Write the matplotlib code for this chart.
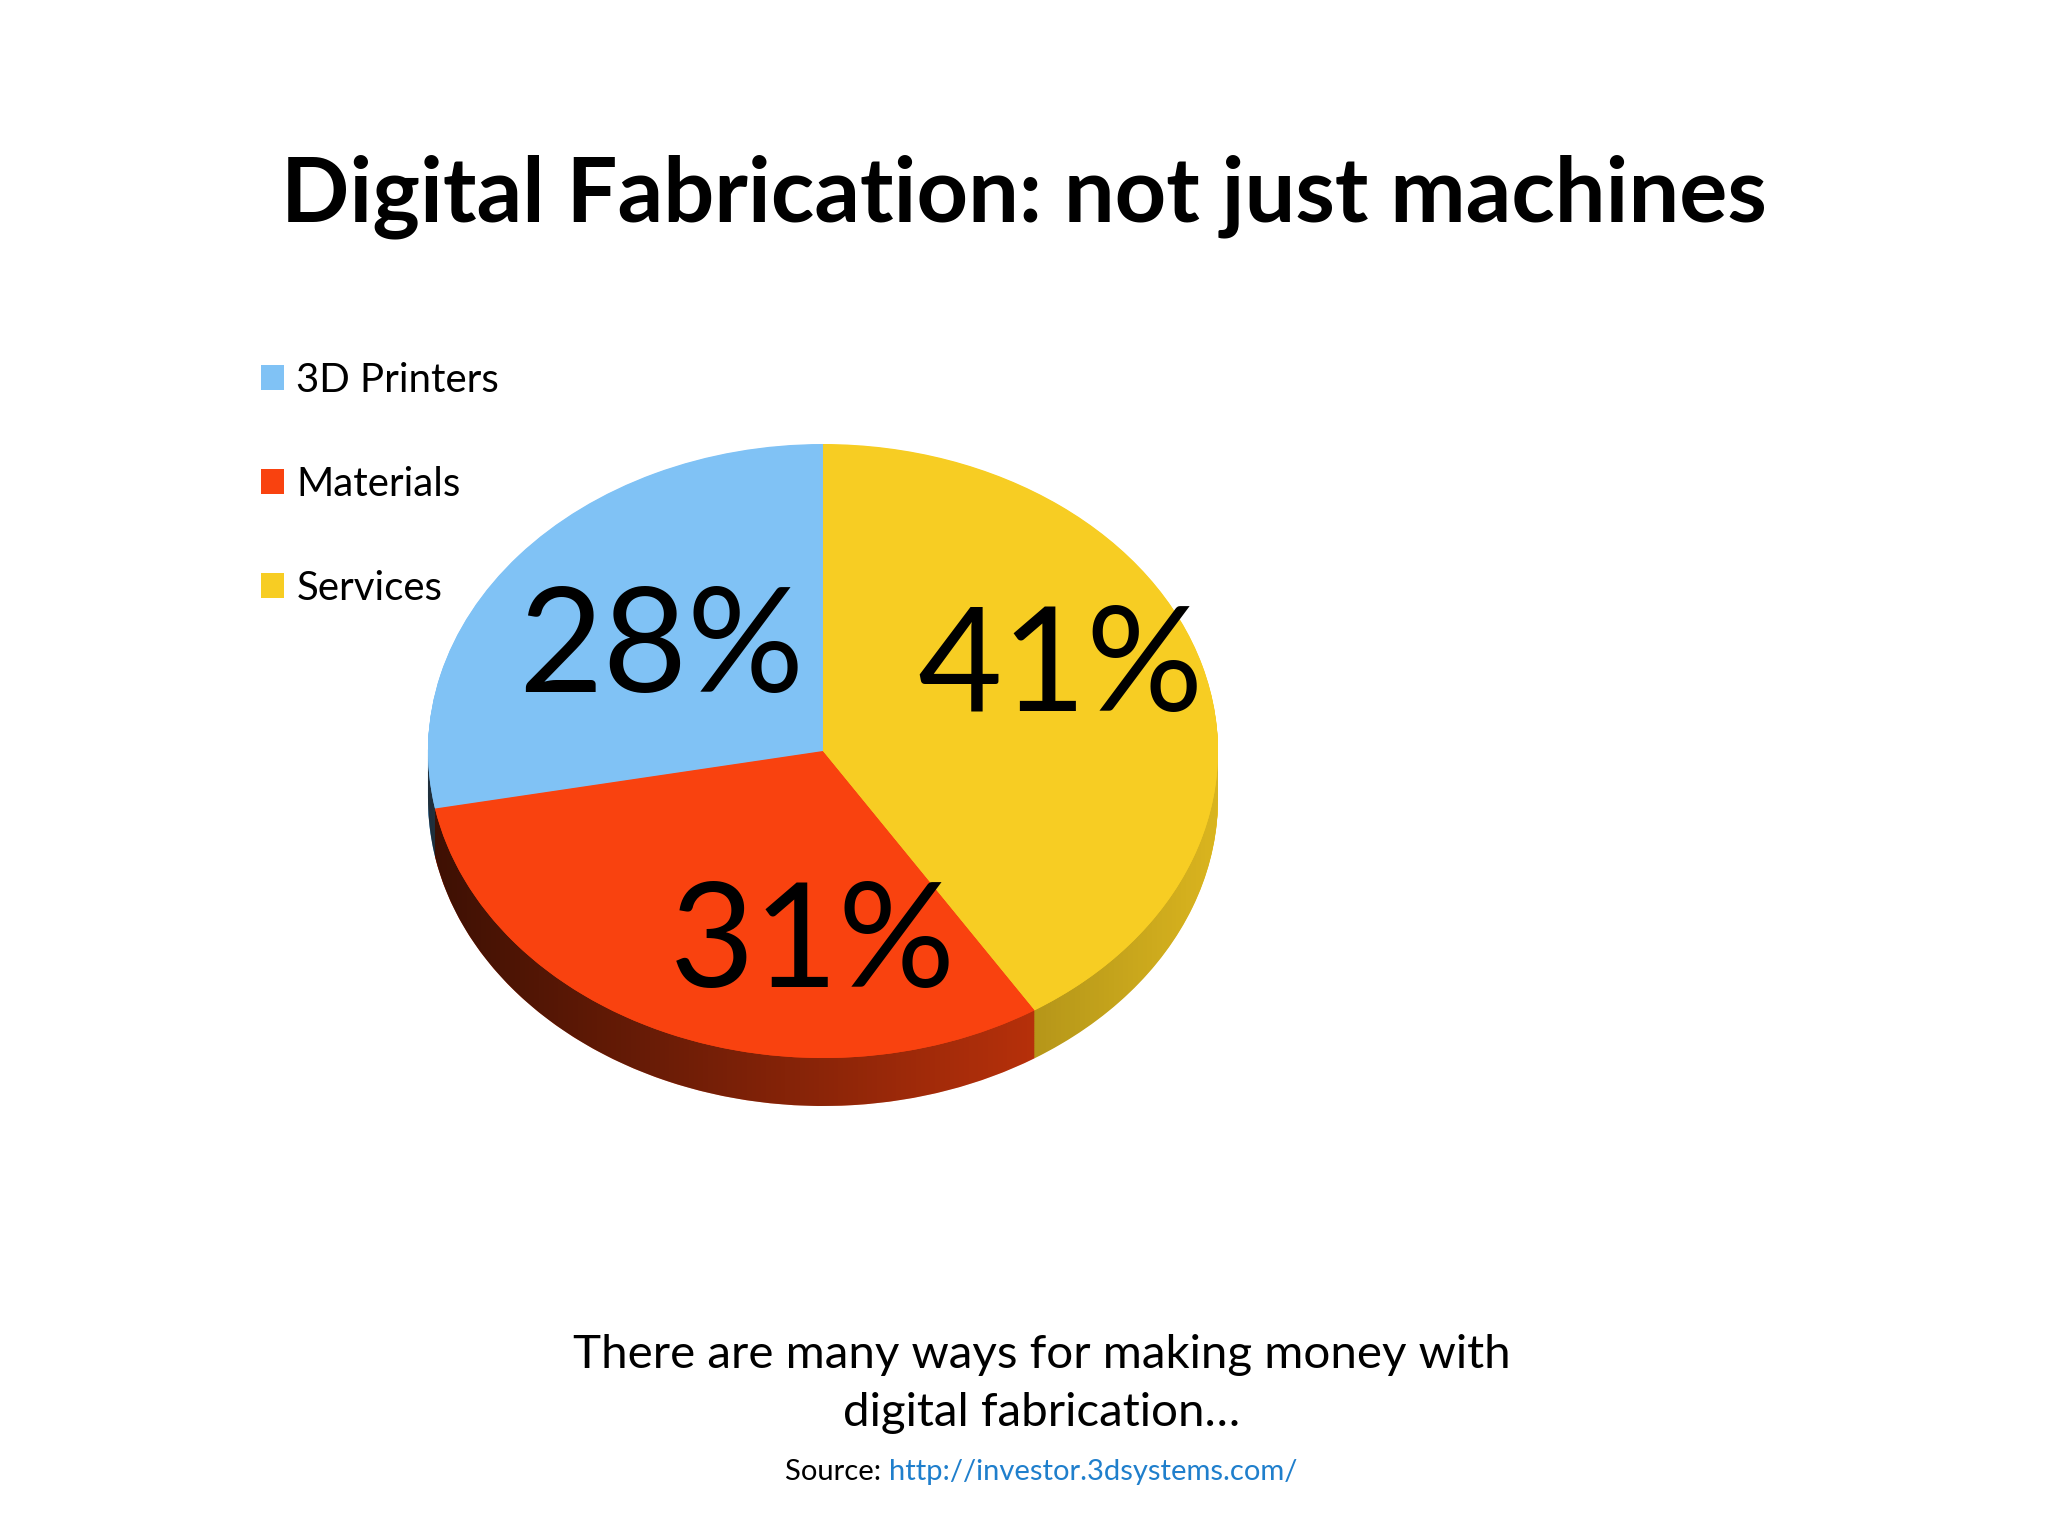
import numpy as np
import matplotlib
matplotlib.use("Agg")
import matplotlib.pyplot as plt
from matplotlib.path import Path
from matplotlib.patches import PathPatch

# ---- data ----
categories = ["3D Printers", "Materials", "Services"]
shares = [28, 31, 41]
pct_labels = ["28%", "31%", "41%"]
colors = ["#80c2f5", "#f9420f", "#f7cd23"]
title = "Digital Fabrication: not just machines"
footer = "There are many ways for making money with\ndigital fabrication…"
source_label = "Source: "
source_url = "http://investor.3dsystems.com/"

FONT = ["Lato", "DejaVu Sans"]
plt.rcParams["font.family"] = FONT

W, H = 2048, 1536
fig = plt.figure(figsize=(W / 100, H / 100), dpi=100)
fig.patch.set_facecolor("white")

# pie geometry in pixels
cx, cy, rx, ry, depth_px = 823, 751, 395, 307, 48
depth = depth_px / ry
xm, ym = 1.1, 1.1
ax_w = 2 * xm * rx
ax_h = (2 * ym + depth) * ry
left = (cx - xm * rx) / W
top_px = cy - ym * ry
bottom = 1 - (top_px + ax_h) / H
ax = fig.add_axes([left, bottom, ax_w / W, ax_h / H])

# side layers
n_layers = 70
for off in np.linspace(depth, 0.002, n_layers):
    ax.pie(shares, colors=colors, startangle=90, counterclock=True,
           center=(0, -off), radius=1,
           wedgeprops=dict(linewidth=0, antialiased=True))

# side shading gradient clipped to the side band
th = np.linspace(np.pi, 2 * np.pi, 200)
upper = np.column_stack([np.cos(th), np.sin(th)])
lower = np.column_stack([np.cos(th[::-1]), np.sin(th[::-1]) - depth])
verts = np.vstack([upper, lower, upper[:1]])
codes = [Path.MOVETO] + [Path.LINETO] * (len(verts) - 2) + [Path.CLOSEPOLY]
band = PathPatch(Path(verts, codes), facecolor="none", edgecolor="none",
                 transform=ax.transData)
ax.add_patch(band)
xs = np.linspace(-1, 1, 400)
alpha = np.clip(0.44 - 0.32 * xs, 0, 1)
grad = np.zeros((2, len(xs), 4))
grad[..., 3] = alpha
im = ax.imshow(grad, extent=(-1, 1, -1 - depth, 0), origin="lower",
               aspect="auto", zorder=5, interpolation="bilinear")
im.set_clip_path(band)

# top face
wedges, _ = ax.pie(shares, colors=colors, startangle=90, counterclock=True,
                   radius=1, wedgeprops=dict(linewidth=0, zorder=10))
for w in wedges:
    w.set_zorder(10)

ax.set_aspect("auto")
ax.set_xlim(-xm, xm)
ax.set_ylim(-ym - depth, ym)
ax.axis("off")

# percentage labels (positions in pie units)
label_pos = [(-0.41, 0.326), (-0.027, -0.634), (0.60, 0.264)]
for (lx, ly), txt in zip(label_pos, pct_labels):
    ax.text(lx, ly, txt, ha="center", va="center", fontsize=105,
            color="black", zorder=20)

# legend
fig.legend(wedges, categories, loc="upper left",
           bbox_to_anchor=(261 / W, 1 - 362 / H), frameon=False,
           fontsize=29, handlelength=0.58, handleheight=0.58,
           handletextpad=0.3, labelspacing=1.66, borderaxespad=0,
           borderpad=0)

# title
fig.text(1024 / W, 1 - 197 / H, title, ha="center", va="center",
         fontsize=64.8, fontweight="bold", color="black")

# footer
fig.text(1042 / W, 1 - 1384 / H, footer, ha="center", va="center",
         fontsize=34.2, color="black", linespacing=1.46)

# source line
fig.canvas.draw()
r = fig.canvas.get_renderer()
t1 = fig.text(0, 1 - 1472 / H, source_label, ha="left", va="center",
              fontsize=21, color="black")
t2 = fig.text(0, 1 - 1472 / H, source_url, ha="left", va="center",
              fontsize=21, color="#1f7fcc")
w1 = t1.get_window_extent(r).width
w2 = t2.get_window_extent(r).width
start = 1041 - (w1 + w2) / 2
t1.set_x(start / W)
t2.set_x((start + w1) / W)

fig.savefig("out.png", dpi=100, facecolor="white")
